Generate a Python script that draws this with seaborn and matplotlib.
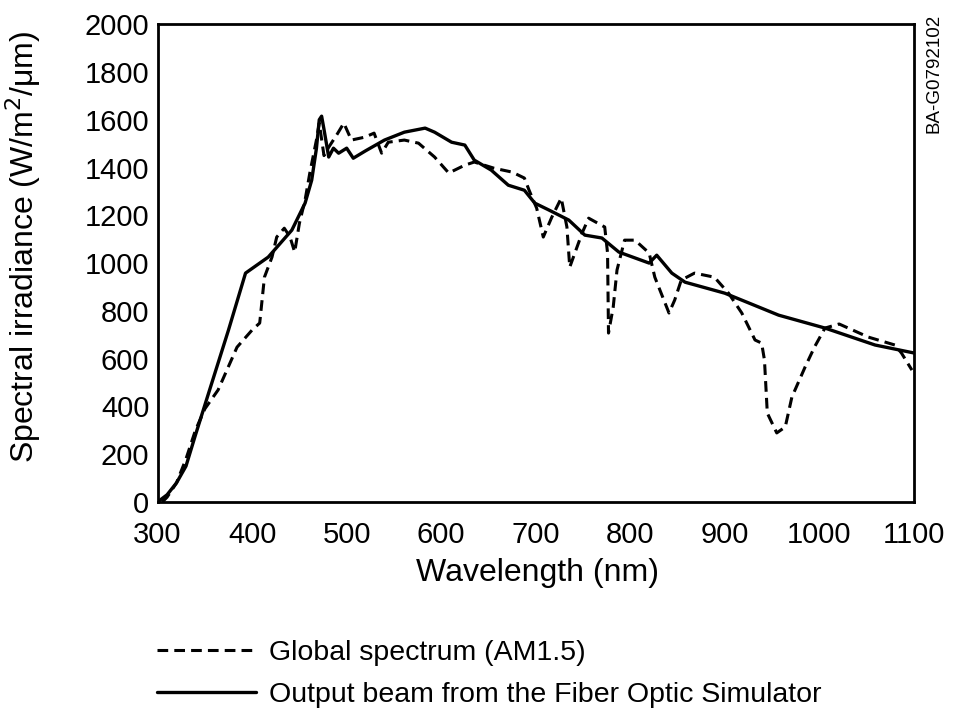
import numpy as np
import pandas as pd
import seaborn as sns
import matplotlib.pyplot as plt

# Global spectrum (AM1.5), dashed
wl_global = [305, 310, 320, 330, 340, 350, 364, 384, 400, 408, 413, 421, 426, 434, 440,
             445, 450, 456, 461, 468, 471, 476, 481, 490, 497, 505, 519, 529, 537, 544,
             561, 576, 593, 608, 625, 635, 656, 675, 688, 693, 701, 708, 717, 727, 733,
             736, 749, 756, 773, 776, 777, 782, 786, 794, 805, 820, 826, 841, 847, 854,
             868, 889, 904, 918, 932, 939, 942, 945, 955, 964, 971, 985, 995, 1006, 1021,
             1052, 1080, 1087, 1098]
irr_global = [0, 20, 80, 180, 300, 390, 469, 648, 720, 749, 941, 1025, 1109, 1146, 1110,
              1046, 1167, 1264, 1377, 1515, 1586, 1450, 1485, 1540, 1586, 1515, 1527, 1544, 1460, 1506,
              1515, 1502, 1444, 1377, 1410, 1423, 1397, 1381, 1356, 1305, 1230, 1109, 1192, 1272, 1151,
              983, 1125, 1188, 1151, 1042, 707, 816, 971, 1096, 1096, 1042, 941, 791, 845, 929,
              958, 941, 874, 791, 678, 665, 594, 372, 289, 314, 439, 565, 649, 728, 745,
              690, 657, 623, 552]

# Output beam from the Fiber Optic Simulator, solid
wl_sim = [300, 310, 320, 330, 340, 355, 375, 393, 417, 442, 456, 463, 468, 471, 473.5,
          476, 481, 486, 491.5, 500, 507, 520, 540, 561, 583, 593, 611, 625, 635, 653,
          671, 688, 699, 714, 735, 752, 770, 788, 820, 828, 844, 858, 900, 957, 1006,
          1059, 1101]
irr_sim = [0, 30, 80, 150, 280, 469, 720, 958, 1025, 1138, 1251, 1347, 1480, 1600, 1615,
           1560, 1444, 1481, 1460, 1481, 1439, 1470, 1515, 1548, 1565, 1548, 1506, 1494, 1431, 1389,
           1326, 1305, 1251, 1222, 1180, 1117, 1105, 1046, 1000, 1033, 958, 920, 874, 782, 728,
           657, 623]

x_ticks = [300, 400, 500, 600, 700, 800, 900, 1000, 1100]
y_ticks = list(range(0, 2001, 200))

sns.set_theme(style="white")
plt.rcParams['font.family'] = ['Liberation Sans', 'DejaVu Sans']
plt.rcParams['text.color'] = 'black'
plt.rcParams['axes.labelcolor'] = 'black'

fig = plt.figure(figsize=(9.67, 7.12), dpi=100)
ax = fig.add_axes([0.163, 0.295, 0.782, 0.671])

sns.lineplot(x=wl_global, y=irr_global, ax=ax, color='black', lw=2.2,
             linestyle=(0, (3.5, 2)), label='Global spectrum (AM1.5)', sort=False)
sns.lineplot(x=wl_sim, y=irr_sim, ax=ax, color='black', lw=2.4,
             label='Output beam from the Fiber Optic Simulator', sort=False)

ax.set_xlim(300, 1100)
ax.set_ylim(0, 2000)
ax.set_xticks(x_ticks)
ax.set_yticks(y_ticks)
ax.tick_params(axis='both', direction='in', labelsize=21, width=1.5, colors='black')
ax.tick_params(axis='x', length=8, pad=14)
ax.tick_params(axis='y', length=5, pad=6)
for s in ax.spines.values():
    s.set_visible(True)
    s.set_color('black')
    s.set_linewidth(2)

ax.set_xlabel('Wavelength (nm)', fontsize=23)
ax.xaxis.set_label_coords(0.503, -0.118)
ax.set_ylabel('Spectral irradiance (W/m$^2$/μm)', fontsize=23)
ax.yaxis.set_label_coords(-0.152, 0.533)

ax.legend_.remove()
handles, labels = ax.get_legend_handles_labels()
fig.legend(handles, labels, loc='upper left', bbox_to_anchor=(0.162, 1 - 640 / 712),
           frameon=False, fontsize=20.5, handlelength=3.5, handletextpad=0.45,
           labelspacing=0.55, borderpad=0, borderaxespad=0)

fig.text(0.966, 0.98, 'BA-G0792102', rotation=90, ha='center', va='top', fontsize=13.5)

fig.savefig('out.png', dpi=100)
